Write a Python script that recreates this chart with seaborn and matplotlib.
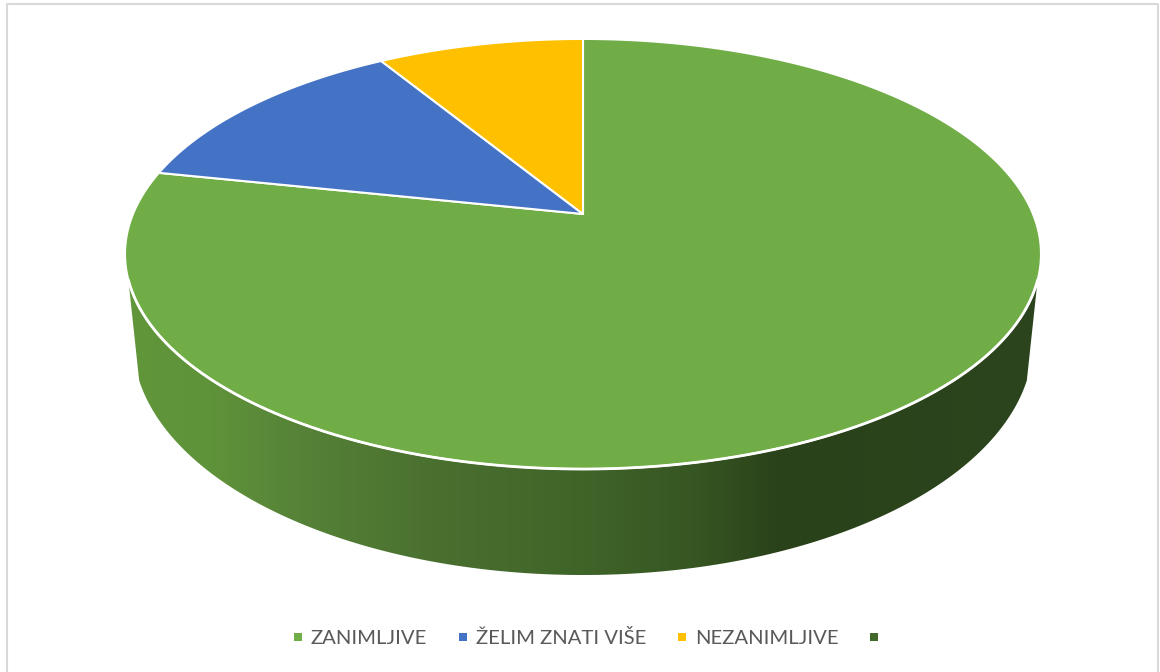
import numpy as np
import matplotlib
matplotlib.use("Agg")
import matplotlib.pyplot as plt
from matplotlib.colors import LinearSegmentedColormap
from matplotlib.lines import Line2D
from matplotlib.patches import Polygon
import seaborn as sns

categories = ["ZANIMLJIVE", "ŽELIM ZNATI VIŠE", "NEZANIMLJIVE", ""]
values = [78.3, 13.0, 8.7, 0.0]
colors = ["#70AD47", "#4472C4", "#FFC000", "#43682B"]

# gradient of the pie side, x pixel -> colour
wall_x = [125, 210, 300, 433, 583, 700, 780, 1041]
wall_colors = ["#61963B", "#5F933A", "#568237", "#4A7030", "#3F6428", "#365522", "#2A421A", "#2D451E"]

sns.set_theme(style="white")
plt.rcParams["font.family"] = ["Lato", "DejaVu Sans"]
palette = sns.color_palette(colors)

# top disc in perspective
APEX_X, APEX_Y = 583, 214
SCALE_X, SCALE_Y, TILT = 450, 207.6, 0.186


def project(theta):
    """Angle on the pie (degrees, math convention) to picture coordinates."""
    u, v = np.cos(np.radians(theta)), np.sin(np.radians(theta))
    w = 1 + TILT * v
    return APEX_X + SCALE_X * u / w, APEX_Y - SCALE_Y * v / w


fig = plt.figure(figsize=(11.6, 6.72), dpi=100)
ax = fig.add_axes([0, 0, 1, 1])

# side of the pie: top rim, then straight edges and the bottom ellipse
rim_x, rim_y = project(np.linspace(197.5, 342.5, 300))
phi = np.radians(np.linspace(170.5, 9.5, 300))
low_x, low_y = 583 - 450 * np.cos(np.pi - phi), 342 + 233 * np.sin(phi)
side = Polygon(np.column_stack([np.r_[rim_x, low_x[::-1]], np.r_[rim_y, low_y[::-1]]]),
               closed=True, transform=ax.transData, facecolor="none", edgecolor="none")
ax.add_patch(side)
stops = [(x - wall_x[0]) / (wall_x[-1] - wall_x[0]) for x in wall_x]
cmap = LinearSegmentedColormap.from_list("wall", list(zip(stops, wall_colors)))
img = ax.imshow(np.linspace(0, 1, 512)[None, :], cmap=cmap, aspect="auto",
                extent=(wall_x[0], wall_x[-1], 600, 260), interpolation="bilinear")
img.set_clip_path(side)

# slices, clockwise from the top
ends = 90 - 360 * np.cumsum(values) / np.sum(values)
starts = np.r_[90, ends[:-1]]
handles = []
for label, color, t1, t2 in zip(categories, palette, starts, ends):
    if t1 > t2:
        xs, ys = project(np.linspace(t1, t2, 400))
        ax.fill(np.r_[APEX_X, xs], np.r_[APEX_Y, ys], facecolor=color,
                edgecolor="white", linewidth=1.5, joinstyle="round")
    handles.append(Line2D([], [], linestyle="none", marker="s", markersize=5.2,
                          markeredgewidth=0, color=color, label=label))

# the white rim is a bit heavier where it meets the side
ax.plot(rim_x, rim_y, color="white", linewidth=2.0)

# chart frame (no line along the bottom)
ax.plot([6.5, 6.5, 1158, 1158], [672, 3.5, 3.5, 672], color="#D9D9D9", linewidth=1.5)

ax.legend(handles=handles, ncol=4, loc="center", bbox_to_anchor=(590, 638),
          bbox_transform=ax.transData, frameon=False, fontsize=14.6, labelcolor="#595959",
          handlelength=0.5, handletextpad=0.4, columnspacing=1.5,
          borderpad=0, borderaxespad=0)

ax.set_xlim(0, 1160)
ax.set_ylim(672, 0)
ax.axis("off")
fig.savefig("out.png", dpi=100, facecolor="white")
plt.close(fig)
